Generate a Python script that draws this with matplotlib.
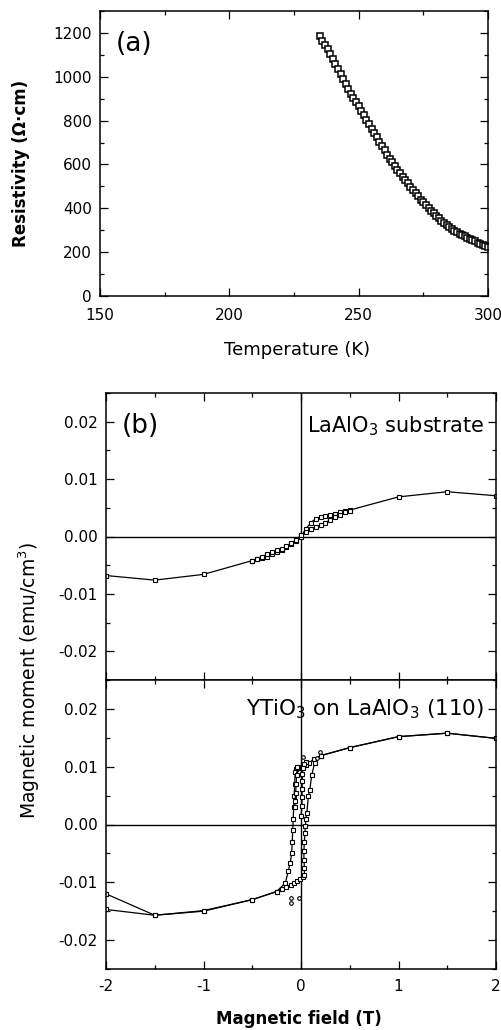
import matplotlib
matplotlib.use("Agg")
import matplotlib.pyplot as plt
from matplotlib.ticker import MultipleLocator, FormatStrFormatter

plt.rcParams['font.family'] = ['DejaVu Sans']
plt.rcParams['axes.unicode_minus'] = False
plt.rcParams['mathtext.fontset'] = 'dejavusans'

# ---- (a) resistivity vs temperature ----
temperature_K = [235, 236, 237, 238, 239, 240, 241, 242, 243, 244, 245, 246, 247, 248,
                 249, 250, 251, 252, 253, 254, 255, 256, 257, 258, 259, 260, 261, 262,
                 263, 264, 265, 266, 267, 268, 269, 270, 271, 272, 273, 274, 275, 276,
                 277, 278, 279, 280, 281, 282, 283, 284, 285, 286, 287, 288, 289, 290,
                 291, 292, 293, 294, 295, 296, 297, 298, 299, 300]
resistivity = [1188, 1165, 1145, 1125, 1105, 1080, 1058, 1036, 1012, 989, 967, 945, 922, 902,
               883, 865, 845, 825, 804, 783, 763, 743, 724, 703, 683, 664, 645, 627,
               610, 593, 577, 561, 545, 530, 514, 498, 483, 468, 454, 440, 427, 414,
               401, 389, 377, 365, 354, 344, 334, 324, 315, 306, 298, 291, 284, 278,
               272, 266, 260, 254, 249, 243, 238, 233, 228, 222]

# ---- (b) upper: LaAlO3 substrate, two field sweeps ----
sub_field_1 = [-2.0, -1.5, -1.0, -0.5, -0.45, -0.4, -0.35, -0.3, -0.25, -0.2, -0.15, -0.1,
               -0.05, 0.0, 0.05, 0.1, 0.15, 0.2, 0.25, 0.3, 0.35, 0.4, 0.45, 0.5,
               1.0, 1.5, 2.0]
sub_moment_1 = [-0.0068, -0.0076, -0.0066, -0.0042, -0.0040, -0.0038, -0.0035, -0.0031,
                -0.0027, -0.0024, -0.0019, -0.0013, -0.0007, 0.0000, 0.0013, 0.0024,
                0.0031, 0.0034, 0.0036, 0.0038, 0.0040, 0.0042, 0.0044, 0.0046,
                0.0069, 0.0078, 0.0071]
sub_field_2 = [0.5, 0.45, 0.4, 0.35, 0.3, 0.25, 0.2, 0.15, 0.1, 0.05, 0.0, -0.05, -0.1,
               -0.15, -0.2, -0.25, -0.3, -0.35, -0.4, -0.45, -0.5]
sub_moment_2 = [0.0045, 0.0042, 0.0038, 0.0034, 0.0029, 0.0024, 0.0020, 0.0017, 0.0013,
                0.0008, 0.0002, -0.0006, -0.0012, -0.0017, -0.0021, -0.0024, -0.0027,
                -0.0031, -0.0035, -0.0039, -0.0043]

# ---- (b) lower: YTiO3 film on LaAlO3 (110), hysteresis loop ----
film_down_field = [2.0, 1.5, 1.0, 0.5, 0.2, 0.13, 0.08, 0.05, 0.02, 0.0, -0.03, -0.05,
                   -0.06, -0.065, -0.07, -0.075, -0.08, -0.085, -0.09, -0.095, -0.11,
                   -0.13, -0.16, -0.25, -0.5, -1.0, -1.5, -2.0]
film_down_moment = [0.0149, 0.0158, 0.0152, 0.0133, 0.0119, 0.0113, 0.0106, 0.0103,
                    0.0101, 0.0100, 0.0098, 0.0096, 0.0090, 0.0070, 0.0050, 0.0030,
                    0.0010, -0.0010, -0.0030, -0.0049, -0.0066, -0.0080, -0.0101,
                    -0.0116, -0.0130, -0.0149, -0.0157, -0.0147]
film_up_field = [-2.0, -1.5, -1.0, -0.5, -0.25, -0.2, -0.15, -0.1, -0.07, -0.04, -0.01,
                 0.02, 0.035, 0.035, 0.03, 0.03, 0.035, 0.04, 0.045, 0.05, 0.06, 0.075,
                 0.09, 0.11, 0.14, 0.2, 0.5, 1.0, 1.5, 2.0]
film_up_moment = [-0.0120, -0.0157, -0.0150, -0.0130, -0.0116, -0.0112, -0.0108, -0.0104,
                  -0.0101, -0.0098, -0.0095, -0.0091, -0.0088, -0.0075, -0.0061, -0.0045,
                  -0.0030, -0.0015, -0.0003, 0.0010, 0.0020, 0.0049, 0.0060, 0.0085,
                  0.0107, 0.0119, 0.0133, 0.0152, 0.0158, 0.0149]
film_minor_field = [0.05, 0.03, 0.02, 0.015, 0.015, 0.012, 0.01, 0.01, 0.0]
film_minor_moment = [0.0108, 0.0104, 0.0098, 0.0088, 0.0075, 0.0062, 0.0048, 0.0032, 0.0015]
film_col_field = [-0.04, -0.045, -0.05, -0.055, -0.06, -0.065]
film_col_moment = [0.0100, 0.0085, 0.0070, 0.0055, 0.0040, 0.0030]
film_stray_field = [-0.1, -0.1, -0.02, 0.19, 0.02, 0.16]
film_stray_moment = [-0.0135, -0.0128, -0.0128, 0.0125, 0.0116, 0.0115]

W, H = 501, 1030
fig = plt.figure(figsize=(W / 100, H / 100), dpi=100)


def box(left, top, right, bottom):
    return [left / W, 1 - bottom / H, (right - left) / W, (bottom - top) / H]


def style(ax, xpad):
    for s in ax.spines.values():
        s.set_linewidth(1.1)
    ax.tick_params(which='both', direction='in', top=True, right=True,
                   width=0.9, labelsize=11)
    ax.tick_params(axis='x', which='major', pad=xpad)
    ax.tick_params(axis='y', which='major', pad=6)
    ax.tick_params(which='major', length=5.5)
    ax.tick_params(which='minor', length=3)


# panel (a)
ax_a = fig.add_axes(box(100, 11, 488, 296))
ax_a.plot(temperature_K, resistivity, linestyle='none', marker='s', ms=4.6,
          mfc='white', mec='black', mew=1.1)
ax_a.set_xlim(150, 300)
ax_a.set_ylim(0, 1300)
ax_a.xaxis.set_major_locator(MultipleLocator(50))
ax_a.xaxis.set_minor_locator(MultipleLocator(25))
ax_a.yaxis.set_major_locator(MultipleLocator(200))
ax_a.yaxis.set_minor_locator(MultipleLocator(100))
style(ax_a, 9)
ax_a.set_xlabel('Temperature (K)', fontsize=13)
ax_a.xaxis.set_label_coords(0.507, -0.158)
ax_a.set_ylabel('Resistivity (\u03a9\u00b7cm)', fontsize=12, fontweight='bold')
ax_a.yaxis.set_label_coords(-0.18, 0.465)
ax_a.text(0.04, 0.885, '(a)', transform=ax_a.transAxes, fontsize=19,
          ha='left', va='center')

# panel (b) upper
ax_b1 = fig.add_axes(box(106, 393, 496, 680))
# panel (b) lower
ax_b2 = fig.add_axes(box(106, 680, 496, 969), sharex=ax_b1)

mk = dict(marker='s', ms=2.6, mfc='white', mec='black', mew=0.8, color='black', lw=0.9)

ax_b1.plot(sub_field_1, sub_moment_1, **mk)
ax_b1.plot(sub_field_2, sub_moment_2, **mk)

ax_b2.plot(film_down_field, film_down_moment, **mk)
ax_b2.plot(film_up_field, film_up_moment, **mk)
ax_b2.plot(film_minor_field, film_minor_moment, **mk)
ax_b2.plot(film_col_field, film_col_moment, **mk)
ax_b2.plot(film_stray_field, film_stray_moment, linestyle='none', marker='o', ms=2.6,
           mfc='white', mec='black', mew=0.8)

for ax in (ax_b1, ax_b2):
    ax.axhline(0, color='black', lw=1.0, zorder=0)
    ax.axvline(0, color='black', lw=1.0, zorder=0)
    ax.set_xlim(-2, 2)
    ax.set_ylim(-0.025, 0.025)
    ax.xaxis.set_major_locator(MultipleLocator(1))
    ax.xaxis.set_minor_locator(MultipleLocator(0.5))
    ax.yaxis.set_major_locator(MultipleLocator(0.01))
    ax.yaxis.set_minor_locator(MultipleLocator(0.005))
    ax.yaxis.set_major_formatter(FormatStrFormatter('%.2f'))
    style(ax, 7)

ax_b1.tick_params(labelbottom=False)
ax_b2.xaxis.set_major_formatter(FormatStrFormatter('%d'))

ax_b1.text(0.04, 0.885, '(b)', transform=ax_b1.transAxes, fontsize=19,
           ha='left', va='center')
ax_b1.text(0.97, 0.885, r'LaAlO$_3$ substrate', transform=ax_b1.transAxes,
           fontsize=15, ha='right', va='center')
ax_b2.text(0.97, 0.9, r'YTiO$_3$ on LaAlO$_3$ (110)', transform=ax_b2.transAxes,
           fontsize=15.5, ha='right', va='center')

ax_b2.set_xlabel('Magnetic field (T)', fontsize=12, fontweight='bold')
ax_b2.xaxis.set_label_coords(0.495, -0.142)
fig.text(29 / W, 1 - 680 / H, 'Magnetic moment (emu/cm$^3$)', rotation=90,
         fontsize=13.5, ha='center', va='center')

fig.savefig('out.png', dpi=100)
